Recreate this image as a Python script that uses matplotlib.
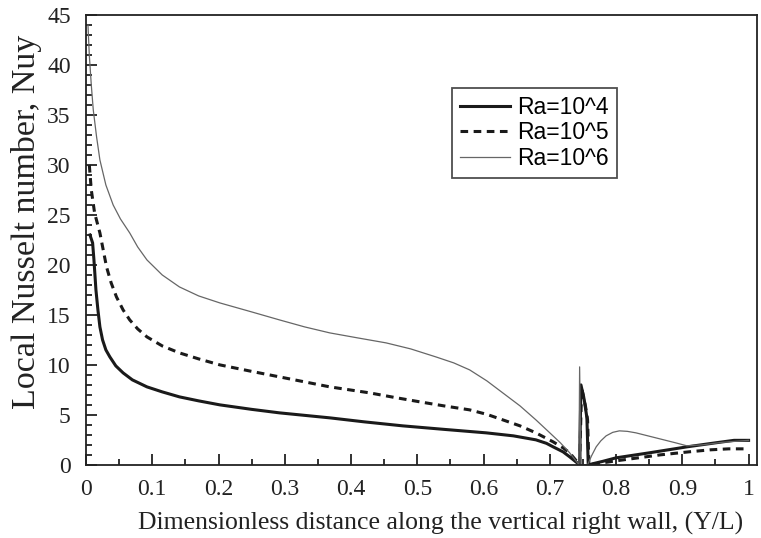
#!/usr/bin/env python3
import matplotlib
matplotlib.use('Agg')
import matplotlib.pyplot as plt
from matplotlib.ticker import MultipleLocator

# Ra = 10^4 (thick solid)
x_ra4 = [0.006, 0.01, 0.012, 0.015, 0.018, 0.021, 0.025, 0.03, 0.036, 0.045,
         0.056, 0.07, 0.092, 0.115, 0.141, 0.17, 0.202, 0.25, 0.292, 0.33,
         0.368, 0.42, 0.478, 0.54, 0.604, 0.645, 0.679, 0.695, 0.705, 0.72,
         0.73, 0.745, 0.747, 0.752, 0.756, 0.758, 0.78, 0.8, 0.85, 0.907,
         0.95, 0.978, 1.0]
y_ra4 = [23.0, 22.2, 20.5, 17.5, 15.5, 13.8, 12.5, 11.5, 10.8, 9.9,
         9.2, 8.5, 7.8, 7.3, 6.8, 6.4, 6.0, 5.55, 5.2, 4.95,
         4.7, 4.3, 3.9, 3.55, 3.2, 2.9, 2.5, 2.15, 1.8, 1.3,
         0.8, 0.0, 8.0, 6.5, 4.7, 0.0, 0.35, 0.7, 1.2, 1.8,
         2.2, 2.45, 2.45]

# Ra = 10^5 (dashed)
x_ra5 = [0.005, 0.008, 0.013, 0.017, 0.021, 0.026, 0.031, 0.038, 0.046, 0.056,
         0.066, 0.078, 0.092, 0.115, 0.141, 0.17, 0.202, 0.25, 0.292, 0.33,
         0.368, 0.428, 0.465, 0.504, 0.54, 0.579, 0.605, 0.629, 0.655, 0.679,
         0.705, 0.72, 0.73, 0.745, 0.748, 0.751, 0.754, 0.757, 0.759, 0.8,
         0.867, 0.91, 0.942, 0.97, 1.0]
y_ra5 = [30.0, 27.5, 25.2, 24.2, 23.2, 21.5, 19.8, 18.2, 16.8, 15.5,
         14.5, 13.6, 12.8, 11.9, 11.2, 10.6, 10.0, 9.35, 8.8, 8.3,
         7.8, 7.2, 6.75, 6.3, 5.9, 5.5, 5.05, 4.5, 3.9, 3.2,
         2.3, 1.7, 1.2, 0.0, 7.7, 6.8, 5.8, 4.5, 0.0, 0.4,
         1.0, 1.3, 1.5, 1.6, 1.6]

# Ra = 10^6 (thin solid)
x_ra6 = [0.003, 0.005, 0.008, 0.011, 0.016, 0.021, 0.03, 0.041, 0.052, 0.066,
         0.078, 0.092, 0.115, 0.141, 0.17, 0.202, 0.25, 0.292, 0.33, 0.368,
         0.41, 0.453, 0.49, 0.528, 0.555, 0.579, 0.605, 0.629, 0.655, 0.679,
         0.7, 0.716, 0.73, 0.744, 0.745, 0.747, 0.757, 0.763, 0.77, 0.777,
         0.785, 0.795, 0.805, 0.817, 0.83, 0.845, 0.86, 0.875, 0.89, 0.907,
         0.93, 0.96, 1.0]
y_ra6 = [44.0, 41.0, 38.0, 35.5, 32.8, 30.5, 28.0, 26.0, 24.6, 23.2,
         21.8, 20.5, 19.0, 17.8, 16.9, 16.2, 15.3, 14.5, 13.8, 13.2,
         12.7, 12.2, 11.6, 10.8, 10.2, 9.5, 8.4, 7.2, 5.9, 4.5,
         3.2, 2.2, 1.2, 0.0, 9.8, 0.0, 0.0, 0.9, 1.8, 2.4,
         2.9, 3.25, 3.4, 3.35, 3.2, 2.95, 2.7, 2.45, 2.2, 1.9,
         2.0, 2.25, 2.45]

labels = ['Ra=10^4', 'Ra=10^5', 'Ra=10^6']

fig = plt.figure(figsize=(7.61, 5.38), dpi=100)
ax = fig.add_axes([0.113, 0.136, 0.882, 0.836])

ax.plot(x_ra4, y_ra4, color='#1a1a1a', lw=2.2, label=labels[0])
ax.plot(x_ra5, y_ra5, color='#1a1a1a', lw=2.2, linestyle=(0, (2.5, 1.8)), label=labels[1])
ax.plot(x_ra6, y_ra6, color='#666666', lw=0.9, label=labels[2])

ax.set_xlim(0, 1.013)
ax.set_ylim(0, 45)

ax.xaxis.set_minor_locator(MultipleLocator(0.05))
ax.yaxis.set_major_locator(MultipleLocator(5))
ax.yaxis.set_minor_locator(MultipleLocator(1))
ax.set_xticks([0, 0.1, 0.2, 0.3, 0.4, 0.5, 0.6, 0.7, 0.8, 0.9, 1.0])
ax.set_xticklabels(['0', '0.1', '0.2', '0.3', '0.4', '0.5', '0.6', '0.7', '0.8', '0.9', '1'])

ax.tick_params(which='both', direction='in', top=False, right=False,
               labelsize=17, width=1.3, color='#222222')
ax.tick_params(axis='x', which='major', length=8, pad=10)
ax.tick_params(axis='y', which='major', length=8, pad=11)
ax.tick_params(which='minor', length=4)
for lab in ax.get_xticklabels() + ax.get_yticklabels():
    lab.set_family('Liberation Serif')
    lab.set_color('#222222')

for s in ax.spines.values():
    s.set_linewidth(1.3)
    s.set_color('#222222')

ax.set_xlabel('Dimensionless distance along the vertical right wall, (Y/L)',
              family='Liberation Serif', fontsize=18.5, color='#222222')
ax.xaxis.set_label_coords(0.528, -0.104)
ax.set_ylabel('Local Nusselt number, Nuy',
              family='Liberation Serif', fontsize=24.5, color='#222222')
ax.yaxis.set_label_coords(-0.066, 0.54)

leg = ax.legend(loc='upper left', bbox_to_anchor=(0.545, 0.838),
                prop={'family': 'Liberation Sans', 'size': 16.5},
                fancybox=False, frameon=True, handlelength=2.2,
                borderpad=0.35, labelspacing=0.1, handletextpad=0.3,
                borderaxespad=0)
leg.get_frame().set_edgecolor('#222222')
leg.get_frame().set_linewidth(1.3)

fig.savefig('out.png', dpi=100)
